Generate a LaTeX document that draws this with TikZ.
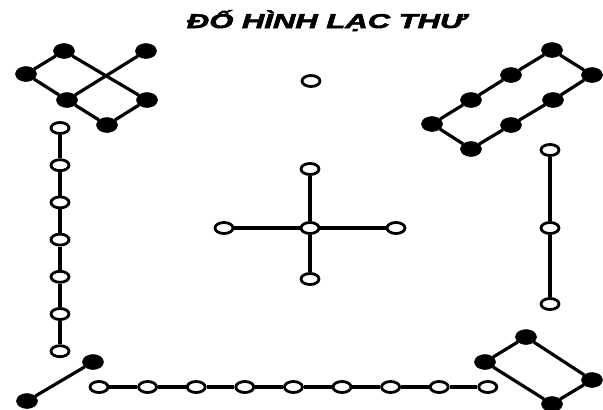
\documentclass[tikz,border=0pt]{standalone}
\usepackage{fontspec}
\setmainfont{Liberation Sans}
\newfontfamily\titlefont[FakeBold=2.5]{Liberation Sans}
\usetikzlibrary{shapes.geometric}
\begin{document}
\begin{tikzpicture}[x=1pt,y=-1pt,
  yin/.style={ellipse,draw=black,fill=white,line width=2.8pt,minimum width=18pt,minimum height=11pt,inner sep=0pt},
  yang/.style={ellipse,fill=black,draw=black,line width=0.5pt,minimum width=21pt,minimum height=15pt,inner sep=0pt},
  link/.style={line width=3.2pt,black}]
\useasboundingbox[fill=white] (0,0) rectangle (603,410);
% title
\node[anchor=base] (title) at (326,28) {\scalebox{1.55}[1]{\titlefont\bfseries\itshape\fontsize{20}{20}\selectfont ĐỐ HÌNH LẠC THƯ}};
% top single (1 white)
\node[yin] (n1) at (311,81) {};
% top-left: 6 black
\node[yang] (a1) at (64,51) {};
\node[yang] (a2) at (146,51) {};
\node[yang] (a3) at (26,74) {};
\node[yang] (a4) at (67,100) {};
\node[yang] (a5) at (147,100) {};
\node[yang] (a6) at (107,125) {};
\draw[link] (a3) -- (a1) (a1) -- (a5) (a3) -- (a4) (a4) -- (a6) (a6) -- (a5) (a4) -- (a2);
% top-right: 8 black
\node[yang] (b1) at (552,50) {};
\node[yang] (b2) at (592,75) {};
\node[yang] (b3) at (511,75) {};
\node[yang] (b4) at (471,100) {};
\node[yang] (b5) at (553,100) {};
\node[yang] (b6) at (432,124) {};
\node[yang] (b7) at (511,125) {};
\node[yang] (b8) at (471,149) {};
\draw[link] (b6) -- (b4) -- (b3) -- (b1) -- (b2) -- (b5) -- (b7) -- (b8) -- (b6);
% left column: 7 white
\foreach \i in {1,...,7} {
  \node[yin] (c\i) at (60,{128+37.2*(\i-1)}) {};
}
\foreach \i [evaluate=\i as \j using int(\i+1)] in {1,...,6} {
  \draw[link] (c\i) -- (c\j);
}
% right column: 3 white
\node[yin] (d1) at (550,150) {};
\node[yin] (d2) at (550,228) {};
\node[yin] (d3) at (550,304) {};
\draw[link] (d1) -- (d2) -- (d3);
% center cross: 5 white
\node[yin] (e0) at (310,228) {};
\node[yin] (e1) at (310,169) {};
\node[yin] (e2) at (310,279) {};
\node[yin] (e3) at (224,228) {};
\node[yin] (e4) at (396,228) {};
\draw[link] (e0) -- (e1) (e0) -- (e2) (e0) -- (e3) (e0) -- (e4);
% bottom-left: 2 black
\node[yang] (f1) at (93,362) {};
\node[yang] (f2) at (27,401) {};
\draw[link] (f1) -- (f2);
% bottom row: 9 white
\foreach \i in {1,...,9} {
  \node[yin] (g\i) at ({99+48.6*(\i-1)},387) {};
}
\foreach \i [evaluate=\i as \j using int(\i+1)] in {1,...,8} {
  \draw[link] (g\i) -- (g\j);
}
% bottom-right: 4 black
\node[yang] (h1) at (526,337) {};
\node[yang] (h2) at (485,362) {};
\node[yang] (h3) at (592,380) {};
\node[yang] (h4) at (552,404) {};
\draw[link] (h2) -- (h1) -- (h3) -- (h4) -- (h2);
\end{tikzpicture}
\end{document}
